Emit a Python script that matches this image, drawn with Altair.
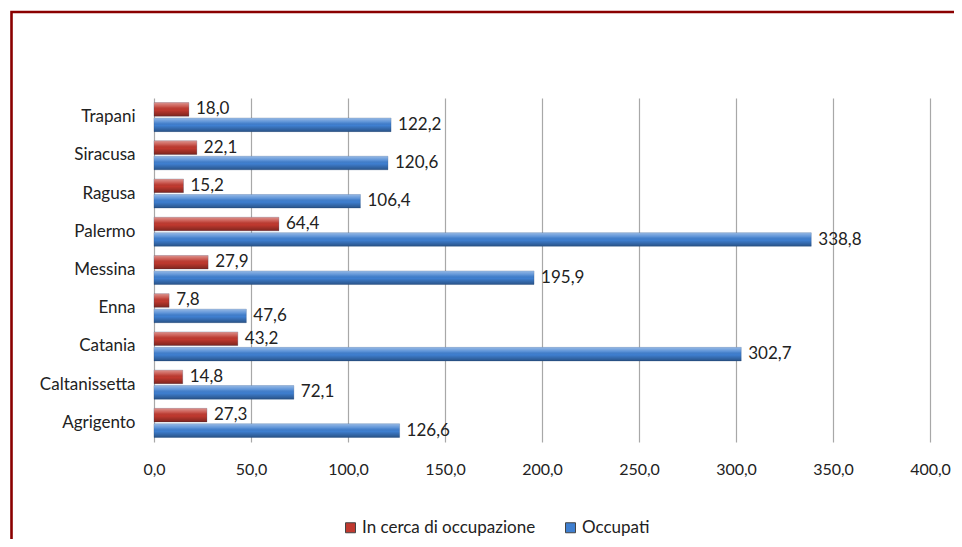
import altair as alt
import pandas as pd

province = ["Trapani", "Siracusa", "Ragusa", "Palermo", "Messina", "Enna", "Catania", "Caltanissetta", "Agrigento"]
in_cerca = [18.0, 22.1, 15.2, 64.4, 27.9, 7.8, 43.2, 14.8, 27.3]
occupati = [122.2, 120.6, 106.4, 338.8, 195.9, 47.6, 302.7, 72.1, 126.6]
series = ["In cerca di occupazione", "Occupati"]
colors = ["#c0392f", "#3f7fd0"]
x_ticks = [0, 50, 100, 150, 200, 250, 300, 350, 400]

rows = []
for p, a, b in zip(province, in_cerca, occupati):
    rows.append({"Provincia": p, "Serie": series[0], "Valore": a})
    rows.append({"Provincia": p, "Serie": series[1], "Valore": b})
df = pd.DataFrame(rows)
df["Etichetta"] = df["Valore"].map(lambda v: f"{v:.1f}".replace(".", ","))

FONT = "Lato"
FS = 17
W, H = 776, 344

y_enc = alt.Y("Provincia:N", sort=province, title=None,
              scale=alt.Scale(paddingInner=0.24, paddingOuter=0.12),
              axis=alt.Axis(domain=False, ticks=False, labelPadding=19,
                            labelFontSize=FS, labelColor="#222", labelFont=FONT))
yoff = alt.YOffset("Serie:N", sort=series, scale=alt.Scale(paddingInner=0.12))
x_enc = alt.X("Valore:Q", title=None,
              scale=alt.Scale(domain=[0, 400], nice=False),
              axis=alt.Axis(values=x_ticks, domain=False, ticks=False, grid=True,
                            gridColor="#a8a8a8", gridWidth=1.2, labelPadding=19,
                            labelFlush=False, labelOverlap=False,
                            labelFontSize=16, labelColor="#222", labelFont=FONT,
                            labelExpr="replace(format(datum.value, '.1f'), '.', ',')"))

base = alt.Chart(df)

bars = base.mark_bar(stroke="#1e3e6e", strokeWidth=0.4, strokeOpacity=0.6).encode(
    y=y_enc, yOffset=yoff, x=x_enc,
    color=alt.Color("Serie:N", sort=series,
                    scale=alt.Scale(domain=series, range=colors),
                    legend=alt.Legend(title=None, orient="none", direction="horizontal",
                                      legendX=188, legendY=421,
                                      symbolType="square", symbolSize=100,
                                      symbolStrokeWidth=1, symbolStrokeColor="#444",
                                      labelFontSize=FS, labelFont=FONT, labelColor="#222",
                                      labelLimit=0, labelOffset=3, columnPadding=26)),
)

shine = base.mark_bar(
    fill=alt.Gradient(gradient="linear", x1=0, y1=0, x2=0, y2=1,
                      stops=[alt.GradientStop(color="rgba(255,255,255,0.45)", offset=0),
                             alt.GradientStop(color="rgba(255,255,255,0.15)", offset=0.3),
                             alt.GradientStop(color="rgba(0,0,0,0)", offset=0.55),
                             alt.GradientStop(color="rgba(0,0,0,0.35)", offset=1)])
).encode(y=alt.Y("Provincia:N", sort=province), yOffset=yoff, x="Valore:Q")

labels = base.mark_text(align="left", baseline="middle", dx=7, fontSize=FS,
                        font=FONT, color="#222").encode(
    y=alt.Y("Provincia:N", sort=province), yOffset=yoff, x="Valore:Q", text="Etichetta:N"
)

frame = alt.Chart(pd.DataFrame({"f": [0]})).mark_rect(
    filled=False, stroke="#8a0000", strokeWidth=2.6
).encode(x=alt.value(-142.5), x2=alt.value(W + 200), y=alt.value(-86), y2=alt.value(H + 300))

chart = alt.layer(bars, shine, labels, frame).properties(
    width=W, height=H,
    autosize=alt.AutoSizeParams(type="none"),
    padding={"left": 146, "top": 90, "right": 946 - 146 - W, "bottom": 531 - 90 - H},
    background="white",
).configure_view(stroke=None)

chart.save("out.html", embed_options={"renderer": "svg", "actions": False})
